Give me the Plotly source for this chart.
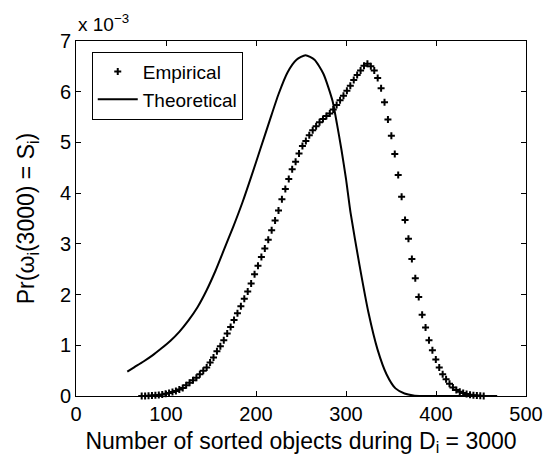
import plotly.graph_objects as go

# Empirical distribution (x: number of sorted objects, y in units of 1e-3)
emp_x = [73.0, 76.8, 80.6, 84.4, 88.2, 92.0, 95.8, 99.6, 103.4, 107.2,
         111.0, 114.8, 118.6, 122.4, 126.2, 130.0, 133.8, 137.6, 141.4, 145.2,
         149.0, 152.8, 156.6, 160.4, 164.2, 168.0, 171.8, 175.6, 179.4, 183.2,
         187.0, 190.8, 194.6, 198.4, 202.2, 206.0, 209.8, 213.6, 217.4, 221.2,
         225.0, 228.8, 232.6, 236.4, 240.2, 244.0, 247.8, 251.6, 255.4, 259.2,
         263.0, 266.8, 270.6, 274.4, 278.2, 282.0, 285.8, 289.6, 293.4, 297.2,
         301.0, 304.8, 308.6, 312.4, 316.2, 320.0, 323.8, 327.6, 331.4, 335.2,
         339.0, 342.8, 346.6, 350.4, 354.2, 358.0, 361.8, 365.6, 369.4, 373.2,
         377.0, 380.8, 384.6, 388.4, 392.2, 396.0, 399.8, 403.6, 407.4, 411.2,
         415.0, 418.8, 422.6, 426.4, 430.2, 434.0, 437.8, 441.6, 445.4, 449.2,
         453.0]
emp_y_e3 = [0.0, 0.0, 0.005, 0.01, 0.015, 0.02, 0.03, 0.045, 0.06, 0.08,
            0.10, 0.13, 0.16, 0.21, 0.26, 0.31, 0.36, 0.43, 0.50, 0.56,
            0.66, 0.76, 0.88, 0.98, 1.10, 1.23, 1.36, 1.50, 1.63, 1.77,
            1.92, 2.06, 2.22, 2.40, 2.57, 2.74, 2.91, 3.08, 3.27, 3.46,
            3.66, 3.88, 4.08, 4.28, 4.47, 4.62, 4.78, 4.93, 5.03, 5.14,
            5.24, 5.32, 5.40, 5.46, 5.52, 5.57, 5.65, 5.74, 5.83, 5.92,
            6.02, 6.12, 6.23, 6.33, 6.42, 6.51, 6.55, 6.50, 6.42, 6.27,
            6.07, 5.79, 5.45, 5.13, 4.77, 4.36, 3.93, 3.47, 3.10, 2.70,
            2.32, 1.95, 1.60, 1.35, 1.10, 0.90, 0.72, 0.56, 0.43, 0.33,
            0.24, 0.17, 0.12, 0.085, 0.06, 0.04, 0.025, 0.015, 0.01, 0.005,
            0.002]

# Theoretical distribution
theo_x = [57, 65, 75, 85, 95, 105, 115, 125, 135, 145, 155, 165, 175, 185,
          195, 205, 215, 225, 235, 245, 255, 265, 275, 285, 290, 295, 300,
          305, 315, 325, 335, 345, 355, 365, 375, 385, 400, 420, 440, 468]
theo_y_e3 = [0.48, 0.57, 0.68, 0.80, 0.94, 1.09, 1.27, 1.49, 1.75, 2.08, 2.47,
             2.91, 3.35, 3.82, 4.34, 4.88, 5.42, 5.95, 6.38, 6.63, 6.72, 6.63,
             6.35, 5.82, 5.36, 4.85, 4.28, 3.62, 2.58, 1.64, 0.92, 0.43, 0.15,
             0.05, 0.01, 0.0, 0.0, 0.0, 0.0, 0.0]

y_ticks = [0, 1, 2, 3, 4, 5, 6, 7]
x_ticks = [0, 100, 200, 300, 400, 500]

SCALE = 1e-3
FONT = "Liberation Sans, Arial, sans-serif"

fig = go.Figure()
fig.add_trace(go.Scatter(
    x=emp_x, y=[v * SCALE for v in emp_y_e3], mode="markers", name="Empirical",
    marker=dict(symbol="cross-thin", size=5, color="black",
                line=dict(color="black", width=2)),
    cliponaxis=False,
))
fig.add_trace(go.Scatter(
    x=theo_x, y=[v * SCALE for v in theo_y_e3], mode="lines", name="Theoretical",
    line=dict(color="black", width=2, shape="spline", smoothing=0.6),
))

axis_common = dict(
    showline=True, linecolor="black", linewidth=1, mirror="ticks",
    ticks="inside", ticklen=5, tickcolor="black", tickwidth=1,
    showgrid=False, zeroline=False,
    tickfont=dict(family=FONT, size=20, color="black"),
)

fig.update_xaxes(
    range=[0, 500], tickvals=x_ticks, ticktext=[str(t) for t in x_ticks],
    title=dict(text="Number of sorted objects during D<sub>i</sub> = 3000",
               font=dict(family=FONT, size=23, color="black"), standoff=8),
    **axis_common,
)
fig.update_yaxes(
    range=[0, 7 * SCALE], tickvals=[t * SCALE for t in y_ticks],
    ticktext=[str(t) for t in y_ticks],
    title=dict(text="Pr(ω<sub>i</sub>(3000) = S<sub>i</sub>)",
               font=dict(family=FONT, size=23, color="black"), standoff=18),
    **axis_common,
)

fig.add_annotation(
    xref="paper", yref="paper", x=0, y=1, xanchor="left", yanchor="bottom",
    text="x 10<sup>−3</sup>", showarrow=False, yshift=4,
    font=dict(family=FONT, size=19, color="black"),
)

# the page body adds an 8px offset, so the figure is 8px smaller on each axis
fig.update_layout(
    width=544, height=455,
    margin=dict(l=68, r=26, t=33, b=67, autoexpand=False),
    paper_bgcolor="white", plot_bgcolor="white",
    font=dict(family=FONT, color="black"),
    legend=dict(x=0.035, y=0.97, xanchor="left", yanchor="top",
                bordercolor="black", borderwidth=1, bgcolor="white",
                font=dict(family=FONT, size=19, color="black"),
                itemwidth=40, tracegroupgap=0),
    showlegend=True,
)

fig.write_html("out.html")
